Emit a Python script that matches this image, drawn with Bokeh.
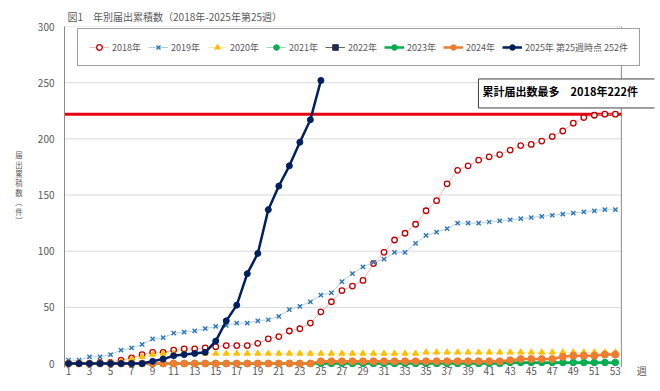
from bokeh.plotting import figure
from bokeh.models import (ColumnDataSource, Label, LegendItem, Legend,
                          FixedTicker, Range1d)
from bokeh.embed import file_html
from bokeh.resources import INLINE

weeks = list(range(1, 54))
tick_weeks = list(range(1, 54, 2))
y_ticks = [0, 50, 100, 150, 200, 250, 300]

y2018 = [0, 0, 0, 1, 1, 3, 5, 8, 10, 10, 12, 13, 13, 14, 15, 16, 16, 16, 18, 22,
         24, 29, 31, 36, 46, 55, 65, 69, 74, 89, 99, 110, 116, 124, 136, 145, 160,
         172, 176, 181, 184, 186, 190, 194, 195, 198, 202, 207, 214, 219, 221, 222, 222]
y2019 = [3, 3, 6, 6, 8, 12, 14, 17, 22, 23, 27, 28, 29, 31, 33, 34, 36, 36, 38, 39,
         42, 48, 51, 55, 61, 63, 73, 80, 86, 90, 93, 99, 99, 107, 114, 117, 120,
         125, 125, 125, 126, 127, 128, 129, 130, 131, 132, 133, 134, 135, 136, 137, 137]
y2020 = [0, 0, 0, 0, 0, 2, 4, 6, 8, 9, 9, 9, 9, 9, 9, 9, 9, 9, 9, 9,
         9, 9, 9, 9, 9, 9, 9, 9, 9, 9, 9, 9, 9, 9, 10, 10, 10,
         10, 10, 10, 10, 10, 10, 10, 10, 10, 10, 10, 10, 10, 10, 10, 10]
y2021 = [0] * 53
y2022 = [0] * 53
y2023 = [0, 0, 0, 0, 0, 0, 0, 0, 0, 0, 0, 0, 0, 0, 0, 0, 0, 0, 0, 0,
         0, 0, 0, 0, 0, 0, 0, 0, 0, 0, 0, 0, 0, 0, 0, 0, 0,
         0, 0, 0, 0, 0, 1, 1, 1, 1, 1, 1, 1, 1, 1, 1, 1]
y2024 = [0, 0, 0, 0, 0, 0, 0, 0, 0, 0, 0, 0, 0, 0, 0, 0, 0, 0, 0, 0,
         0, 0, 0, 0, 2, 2, 2, 2, 2, 2, 2, 2, 2, 2, 2, 2, 2,
         2, 2, 2, 2, 2, 3, 4, 4, 4, 4, 6, 7, 7, 7, 8, 8]
y2025 = [0, 0, 0, 0, 0, 0, 0, 0, 2, 4, 7, 8, 9, 10, 20, 38, 52, 80, 98, 137,
         158, 176, 197, 217, 252]
max_value = 222

labels = ["2018年", "2019年", "2020年", "2021年", "2022年", "2023年", "2024年",
          "2025年 第25週時点 252件"]

FONT = "Noto Sans CJK JP"
GRAY = "#595959"
X_START, X_PLOT_END, X_END = 0.62, 53.57, 56.72
Y_START, Y_END = -3.5, 300
WEEK_LABEL_POS = 55.5

p = figure(frame_width=590, frame_height=341, min_border_left=64, min_border_top=26,
           min_border_right=2, min_border_bottom=20,
           x_range=Range1d(X_START, X_END), y_range=Range1d(Y_START, Y_END),
           output_backend="svg", toolbar_location=None,
           title="図1　年別届出累積数（2018年-2025年第25週）")
p.title.text_font = FONT
p.title.text_font_size = "10px"
p.title.text_font_style = "normal"
p.title.text_color = GRAY
p.title.align = "left"
p.title.offset = 3
p.title.standoff = 6

p.outline_line_color = None
p.xgrid.grid_line_color = None
p.ygrid.grid_line_color = None

# horizontal gridlines limited to the plot area (they stop at the right border)
p.segment(x0=[X_START] * len(y_ticks), x1=[X_PLOT_END] * len(y_ticks),
          y0=y_ticks, y1=y_ticks, line_color="#d9d9d9", line_width=1)
# right border of the plot area
p.segment(x0=[X_PLOT_END], x1=[X_PLOT_END], y0=[Y_START], y1=[Y_END],
          line_color="#8c8c8c", line_width=1)
# maximum line (2018: 222)
p.segment(x0=[X_START], x1=[X_PLOT_END], y0=[max_value], y1=[max_value],
          line_color="#e60012", line_width=3)

p.yaxis.ticker = FixedTicker(ticks=y_ticks)
p.yaxis.axis_line_color = "#8c8c8c"
p.yaxis.major_tick_line_color = None
p.yaxis.minor_tick_line_color = None
p.yaxis.major_label_standoff = 4
p.yaxis.major_label_text_font = FONT
p.yaxis.major_label_text_font_size = "10px"
p.yaxis.major_label_text_color = GRAY
p.yaxis.axis_label = "届\n出\n累\n積\n数\n︵\n件\n︶\n　\n　"
p.yaxis.axis_label_orientation = "horizontal"
p.yaxis.axis_label_text_font = FONT
p.yaxis.axis_label_text_font_size = "7.5px"
p.yaxis.axis_label_text_font_style = "normal"
p.yaxis.axis_label_text_color = GRAY
p.yaxis.axis_label_text_line_height = 0.85
p.yaxis.axis_label_standoff = 12

p.xaxis.ticker = FixedTicker(ticks=tick_weeks + [WEEK_LABEL_POS])
p.xaxis.major_label_overrides = {WEEK_LABEL_POS: "週"}
p.xaxis.axis_line_color = None
p.xaxis.major_tick_line_color = None
p.xaxis.minor_tick_line_color = None
p.xaxis.major_label_standoff = -11
p.xaxis.major_label_text_font = FONT
p.xaxis.major_label_text_font_size = "10px"
p.xaxis.major_label_text_color = GRAY


def add_series(y, line_color, lw, marker, mcolor, msize, fill, mlw=1.0):
    src = ColumnDataSource(dict(x=weeks[:len(y)], y=y))
    ln = p.line("x", "y", source=src, line_color=line_color, line_width=lw)
    sc = p.scatter("x", "y", source=src, marker=marker, size=msize,
                   line_color=mcolor, fill_color=fill, line_width=mlw)
    return [ln, sc]


r2018 = add_series(y2018, "#f4a3a3", 0.8, "circle", "#c00000", 5.5, "white", 1.3)
r2019 = add_series(y2019, "#9dc3e6", 0.8, "x", "#2e75b6", 6, None, 1.4)
r2020 = add_series(y2020, "#ffe699", 0.8, "triangle", "#ffc000", 6, "#ffc000")
r2021 = add_series(y2021, "#7fd3a8", 0.8, "circle", "#00b050", 3.5, "#00b050")
r2022 = add_series(y2022, "#404040", 0.8, "square", "#1f2d4d", 3, "#1f2d4d")
r2023 = add_series(y2023, "#00b050", 2.5, "circle", "#00b050", 6.5, "#00b050")
r2024 = add_series(y2024, "#ed7d31", 2.5, "circle", "#ed7d31", 7, "#ed7d31")
r2025 = add_series(y2025, "#002060", 2.5, "circle", "#002060", 6, "#002060")

items = [LegendItem(label=lab, renderers=r) for lab, r in
         zip(labels, [r2018, r2019, r2020, r2021, r2022, r2023, r2024, r2025])]
legend = Legend(items=items, orientation="horizontal", location=(13, 301),
                label_text_font=FONT, label_text_font_size="9px",
                label_text_color=GRAY, glyph_width=20, glyph_height=14,
                label_standoff=3, spacing=7, padding=11,
                margin=0, border_line_color="#404040", border_line_width=1,
                background_fill_color="white", background_fill_alpha=1.0)
p.add_layout(legend)

p.add_layout(Label(x=39.98, y=240.4, text="累計届出数最多　2018年222件",
                   text_font=FONT, text_font_size="11px", text_font_style="bold",
                   text_color="black", text_baseline="middle", text_align="left",
                   border_line_color="#404040", border_line_width=1,
                   background_fill_color="white", padding=(4, 18, 4, 9)))

open("out.html", "w").write(file_html(p, INLINE))
